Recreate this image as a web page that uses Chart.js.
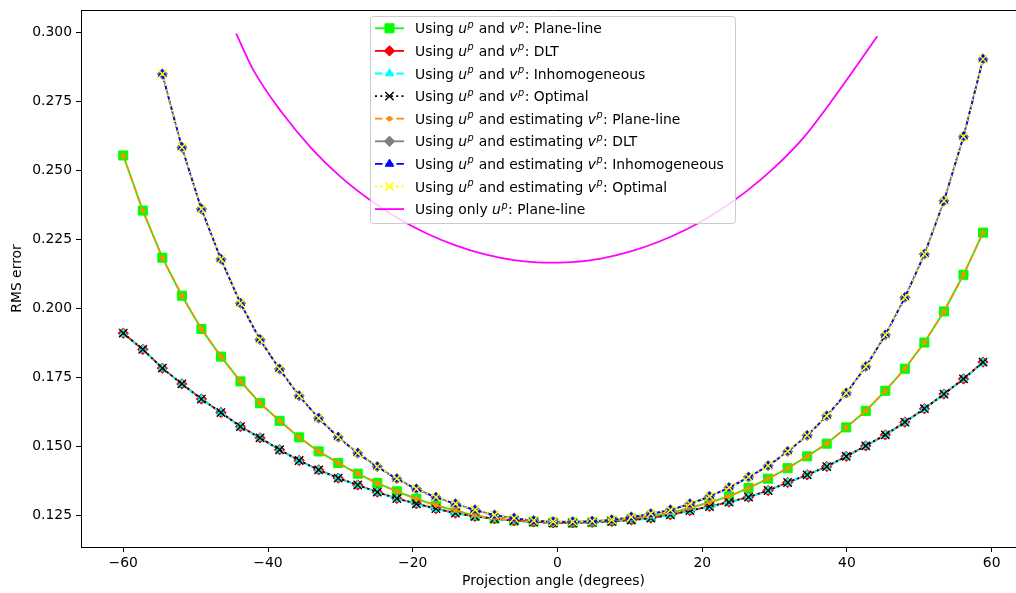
<!DOCTYPE html>
<html>
<head>
<meta charset="utf-8">
<script src="https://cdn.jsdelivr.net/npm/chart.js@4"></script>
<style>
  html, body { margin: 0; padding: 0; background: #fff; overflow: hidden; }
  canvas { display: block; }
</style>
</head>
<body>
<canvas id="chart" width="1040" height="593"></canvas>
<script>
// projection angles (degrees)
const angles = [-60, -57.3, -54.6, -51.9, -49.2, -46.5, -43.8, -41.1, -38.4, -35.7, -33, -30.3,
  -27.6, -24.9, -22.2, -19.5, -16.8, -14.1, -11.4, -8.7, -6, -3.3, -0.6, 2.1, 4.8, 7.5, 10.2,
  12.9, 15.6, 18.3, 21, 23.7, 26.4, 29.1, 31.8, 34.5, 37.2, 39.9, 42.6, 45.3, 48, 50.7, 53.4,
  56.1, 58.8];

// using u^p and v^p
const planeLine = [0.2555, 0.2355, 0.2184, 0.2046, 0.1925, 0.1825, 0.1735, 0.1656, 0.1592, 0.1532,
  0.1481, 0.1439, 0.1400, 0.1366, 0.1336, 0.1309, 0.1285, 0.1266, 0.1248, 0.1237, 0.1230, 0.1226,
  0.1223, 0.1222, 0.1224, 0.1229, 0.1236, 0.1245, 0.1258, 0.1275, 0.1296, 0.1318, 0.1348, 0.1382,
  0.1420, 0.1463, 0.1509, 0.1568, 0.1628, 0.1701, 0.1781, 0.1876, 0.1989, 0.2122, 0.2275];
const dlt = [0.1910, 0.1851, 0.1783, 0.1726, 0.1671, 0.1622, 0.1571, 0.1530, 0.1487, 0.1448,
  0.1414, 0.1384, 0.1359, 0.1333, 0.1310, 0.1291, 0.1273, 0.1257, 0.1245, 0.1237, 0.1230, 0.1225,
  0.1222, 0.1222, 0.1224, 0.1227, 0.1232, 0.1239, 0.1251, 0.1266, 0.1281, 0.1297, 0.1315, 0.1339,
  0.1368, 0.1396, 0.1426, 0.1463, 0.1501, 0.1541, 0.1587, 0.1636, 0.1689, 0.1744, 0.1805];
const inhom = [0.1908, 0.1850, 0.1782, 0.1725, 0.1670, 0.1621, 0.1570, 0.1529, 0.1486, 0.1447,
  0.1413, 0.1383, 0.1358, 0.1332, 0.1309, 0.1290, 0.1272, 0.1256, 0.1244, 0.1236, 0.1229, 0.1224,
  0.1221, 0.1221, 0.1223, 0.1226, 0.1231, 0.1238, 0.1250, 0.1265, 0.1280, 0.1296, 0.1314, 0.1338,
  0.1367, 0.1395, 0.1425, 0.1462, 0.1500, 0.1540, 0.1586, 0.1635, 0.1688, 0.1743, 0.1803];
const optimal = [0.1910, 0.1851, 0.1783, 0.1726, 0.1671, 0.1622, 0.1571, 0.1530, 0.1487, 0.1448,
  0.1414, 0.1384, 0.1359, 0.1333, 0.1310, 0.1291, 0.1273, 0.1257, 0.1245, 0.1237, 0.1230, 0.1225,
  0.1222, 0.1222, 0.1224, 0.1227, 0.1232, 0.1239, 0.1251, 0.1266, 0.1281, 0.1297, 0.1315, 0.1339,
  0.1368, 0.1396, 0.1426, 0.1463, 0.1501, 0.1541, 0.1587, 0.1636, 0.1689, 0.1744, 0.1805];

// using u^p and estimating v^p
const estPlaneLine = [0.2555, 0.2355, 0.2184, 0.2046, 0.1925, 0.1825, 0.1735, 0.1656, 0.1592, 0.1532,
  0.1481, 0.1439, 0.1400, 0.1366, 0.1336, 0.1309, 0.1286, 0.1267, 0.1249, 0.1238, 0.1231, 0.1226,
  0.1223, 0.1223, 0.1225, 0.1230, 0.1237, 0.1246, 0.1259, 0.1276, 0.1296, 0.1318, 0.1348, 0.1382,
  0.1420, 0.1463, 0.1509, 0.1568, 0.1628, 0.1701, 0.1781, 0.1876, 0.1989, 0.2122, 0.2275];
const estDlt = [null, null, 0.2851, 0.2585, 0.2361, 0.2179, 0.2019, 0.1887, 0.1780, 0.1683,
  0.1602, 0.1533, 0.1475, 0.1426, 0.1382, 0.1345, 0.1315, 0.1291, 0.1269, 0.1250, 0.1239, 0.1230,
  0.1226, 0.1226, 0.1228, 0.1233, 0.1243, 0.1255, 0.1269, 0.1291, 0.1318, 0.1350, 0.1388, 0.1429,
  0.1481, 0.1539, 0.1610, 0.1693, 0.1789, 0.1904, 0.2040, 0.2197, 0.2390, 0.2624, 0.2905];
const estInhom = [null, null, 0.2850, 0.2584, 0.2360, 0.2178, 0.2018, 0.1886, 0.1779, 0.1682,
  0.1601, 0.1532, 0.1474, 0.1425, 0.1381, 0.1344, 0.1314, 0.1290, 0.1268, 0.1249, 0.1238, 0.1229,
  0.1225, 0.1225, 0.1227, 0.1232, 0.1242, 0.1254, 0.1268, 0.1290, 0.1317, 0.1349, 0.1387, 0.1428,
  0.1480, 0.1538, 0.1609, 0.1692, 0.1788, 0.1903, 0.2039, 0.2196, 0.2389, 0.2623, 0.2904];
const estOptimal = [null, null, 0.2851, 0.2585, 0.2361, 0.2179, 0.2019, 0.1887, 0.1780, 0.1683,
  0.1602, 0.1533, 0.1475, 0.1426, 0.1382, 0.1345, 0.1315, 0.1291, 0.1269, 0.1250, 0.1239, 0.1230,
  0.1226, 0.1226, 0.1228, 0.1233, 0.1243, 0.1255, 0.1269, 0.1291, 0.1318, 0.1350, 0.1388, 0.1429,
  0.1481, 0.1539, 0.1610, 0.1693, 0.1789, 0.1904, 0.2040, 0.2197, 0.2390, 0.2624, 0.2905];

// using only u^p (finer sampling, only the part below 0.3)
const onlyUAngles = [-44.4, -42, -38, -34, -30, -26, -22, -18, -14, -10, -6, -2, 2, 6, 10, 14,
  18, 22, 26, 30, 34, 38, 42, 44.2];
const onlyUPlaneLine = [0.2997, 0.2864, 0.2708, 0.2581, 0.2478, 0.2395, 0.2326, 0.2271, 0.2228,
  0.2196, 0.2175, 0.2166, 0.2168, 0.2181, 0.2206, 0.2242, 0.2289, 0.2349, 0.2423, 0.2512, 0.2620,
  0.2757, 0.2905, 0.2988];

const legendLabels = [
  "Using $u^p$ and $v^p$: Plane-line",
  "Using $u^p$ and $v^p$: DLT",
  "Using $u^p$ and $v^p$: Inhomogeneous",
  "Using $u^p$ and $v^p$: Optimal",
  "Using $u^p$ and estimating $v^p$: Plane-line",
  "Using $u^p$ and estimating $v^p$: DLT",
  "Using $u^p$ and estimating $v^p$: Inhomogeneous",
  "Using $u^p$ and estimating $v^p$: Optimal",
  "Using only $u^p$: Plane-line"
];

const FONT = '"DejaVu Sans", sans-serif';
const FS = 13.9;
const DASHED = [7.5, 3.2];
const DOTTED = [2, 3.3];

function pts(xs, ys) {
  return xs.map((x, i) => ({ x: x, y: ys[i] }));
}

function series(i, values, color, dash, pointStyle, radius, extra) {
  return Object.assign({
    label: legendLabels[i].replace(/\$/g, "").replace(/\^/g, ""),
    data: pts(angles, values),
    borderColor: color,
    backgroundColor: color,
    borderWidth: 1.8,
    borderDash: dash,
    pointStyle: pointStyle,
    pointRadius: radius,
    pointBorderWidth: 1,
    pointBorderColor: color,
    pointBackgroundColor: color,
    tension: 0,
    order: 10 - i
  }, extra || {});
}

const datasets = [
  series(0, planeLine, "#00ff00", [], "rect", 6.4),
  series(1, dlt, "#ff0000", [], "rectRot", 5.2),
  series(2, inhom, "#00ffff", DASHED, "triangle", 4.8),
  series(3, optimal, "#000000", DOTTED, "crossRot", 5.9, { pointBorderWidth: 1.4 }),
  series(4, estPlaneLine, "#ff8c00", DASHED, "circle", 2.2),
  series(5, estDlt, "#808080", [], "rectRot", 5.2),
  series(6, estInhom, "#0000ff", DASHED, "triangle", 4.8),
  series(7, estOptimal, "#ffff00", DOTTED, "crossRot", 5.9, { pointBorderWidth: 1.4 }),
  {
    label: "Using only up: Plane-line",
    data: pts(onlyUAngles, onlyUPlaneLine),
    borderColor: "#ff00ff",
    backgroundColor: "#ff00ff",
    borderWidth: 1.8,
    pointRadius: 0,
    cubicInterpolationMode: "monotone",
    order: 1
  }
];

function drawRich(ctx, str, x, y) {
  const parts = str.split("$");
  parts.forEach((p, k) => {
    if (k % 2 === 0) {
      ctx.font = FS + "px " + FONT;
      ctx.fillText(p, x, y);
      x += ctx.measureText(p).width;
    } else {
      const [base, sup] = p.split("^");
      ctx.font = "italic " + FS + "px " + FONT;
      ctx.fillText(base, x, y);
      x += ctx.measureText(base).width + 0.5;
      ctx.font = "italic " + (FS * 0.7) + "px " + FONT;
      ctx.fillText(sup, x, y - 5.5);
      x += ctx.measureText(sup).width + 0.5;
    }
  });
}

const frameAndLegend = {
  id: "frameAndLegend",
  afterDraw(chart) {
    const ctx = chart.ctx;
    const area = chart.chartArea;
    ctx.save();
    // top spine
    ctx.strokeStyle = "#000";
    ctx.lineWidth = 1;
    ctx.beginPath();
    ctx.moveTo(area.left, area.top + 0.5);
    ctx.lineTo(area.right, area.top + 0.5);
    ctx.stroke();

    // legend box
    const bx = 370.5, by = 16.5, bw = 365, bh = 207, r = 3;
    ctx.beginPath();
    ctx.moveTo(bx + r, by);
    ctx.arcTo(bx + bw, by, bx + bw, by + bh, r);
    ctx.arcTo(bx + bw, by + bh, bx, by + bh, r);
    ctx.arcTo(bx, by + bh, bx, by, r);
    ctx.arcTo(bx, by, bx + bw, by, r);
    ctx.closePath();
    ctx.fillStyle = "rgba(255,255,255,0.8)";
    ctx.fill();
    ctx.strokeStyle = "#cccccc";
    ctx.stroke();

    chart.data.datasets.forEach((ds, i) => {
      const cy = 28.3 + 22.6 * i;
      ctx.save();
      ctx.strokeStyle = ds.borderColor;
      ctx.lineWidth = ds.borderWidth;
      ctx.setLineDash(ds.borderDash || []);
      ctx.beginPath();
      ctx.moveTo(375, cy);
      ctx.lineTo(404, cy);
      ctx.stroke();
      ctx.restore();
      if (ds.pointRadius > 0) {
        ctx.save();
        ctx.fillStyle = ds.pointBackgroundColor;
        ctx.strokeStyle = ds.pointBorderColor;
        ctx.lineWidth = ds.pointBorderWidth;
        Chart.helpers.drawPoint(ctx, {
          pointStyle: ds.pointStyle,
          radius: ds.pointRadius,
          rotation: 0,
          borderWidth: ds.pointBorderWidth
        }, 389.5, cy);
        ctx.restore();
      }
      ctx.fillStyle = "#000";
      ctx.textBaseline = "alphabetic";
      ctx.textAlign = "left";
      drawRich(ctx, legendLabels[i], 415, cy + 5);
    });
    ctx.restore();
  }
};

const chart = new Chart(document.getElementById("chart"), {
  type: "line",
  data: { datasets: datasets },
  plugins: [frameAndLegend],
  options: {
    responsive: false,
    animation: false,
    events: [],
    layout: { padding: { left: 0, top: 10, right: 14, bottom: 0 } },
    plugins: { legend: { display: false }, tooltip: { enabled: false } },
    scales: {
      x: {
        type: "linear",
        min: -65.84,
        max: 64.74,
        afterFit(scale) {
          scale.height = 46;
          scale.paddingLeft = 0;
          scale.paddingRight = 0;
        },
        border: { display: true, color: "#000", width: 1 },
        grid: { drawOnChartArea: false, drawTicks: true, tickLength: 5, tickColor: "#000", tickWidth: 1 },
        ticks: {
          stepSize: 20,
          includeBounds: false,
          maxRotation: 0,
          padding: 3,
          color: "#000",
          font: { family: FONT, size: FS },
          callback: v => (v < 0 ? "\u2212" + Math.abs(v) : String(v))
        },
        title: {
          display: true,
          text: "Projection angle (degrees)",
          color: "#000",
          font: { family: FONT, size: FS },
          padding: { top: 0, bottom: 3.5 }
        }
      },
      y: {
        type: "linear",
        min: 0.1134,
        max: 0.3083,
        afterFit(scale) {
          scale.width = 81;
          scale.paddingTop = 0;
          scale.paddingBottom = 0;
        },
        border: { display: true, color: "#000", width: 1 },
        grid: { drawOnChartArea: false, drawTicks: true, tickLength: 5, tickColor: "#000", tickWidth: 1 },
        ticks: {
          stepSize: 0.025,
          includeBounds: false,
          padding: 4,
          color: "#000",
          font: { family: FONT, size: FS },
          callback: v => v.toFixed(3)
        },
        title: {
          display: true,
          text: "RMS error",
          color: "#000",
          font: { family: FONT, size: FS },
          padding: { top: 8.6, bottom: 0 }
        }
      }
    }
  }
});
</script>
</body>
</html>
